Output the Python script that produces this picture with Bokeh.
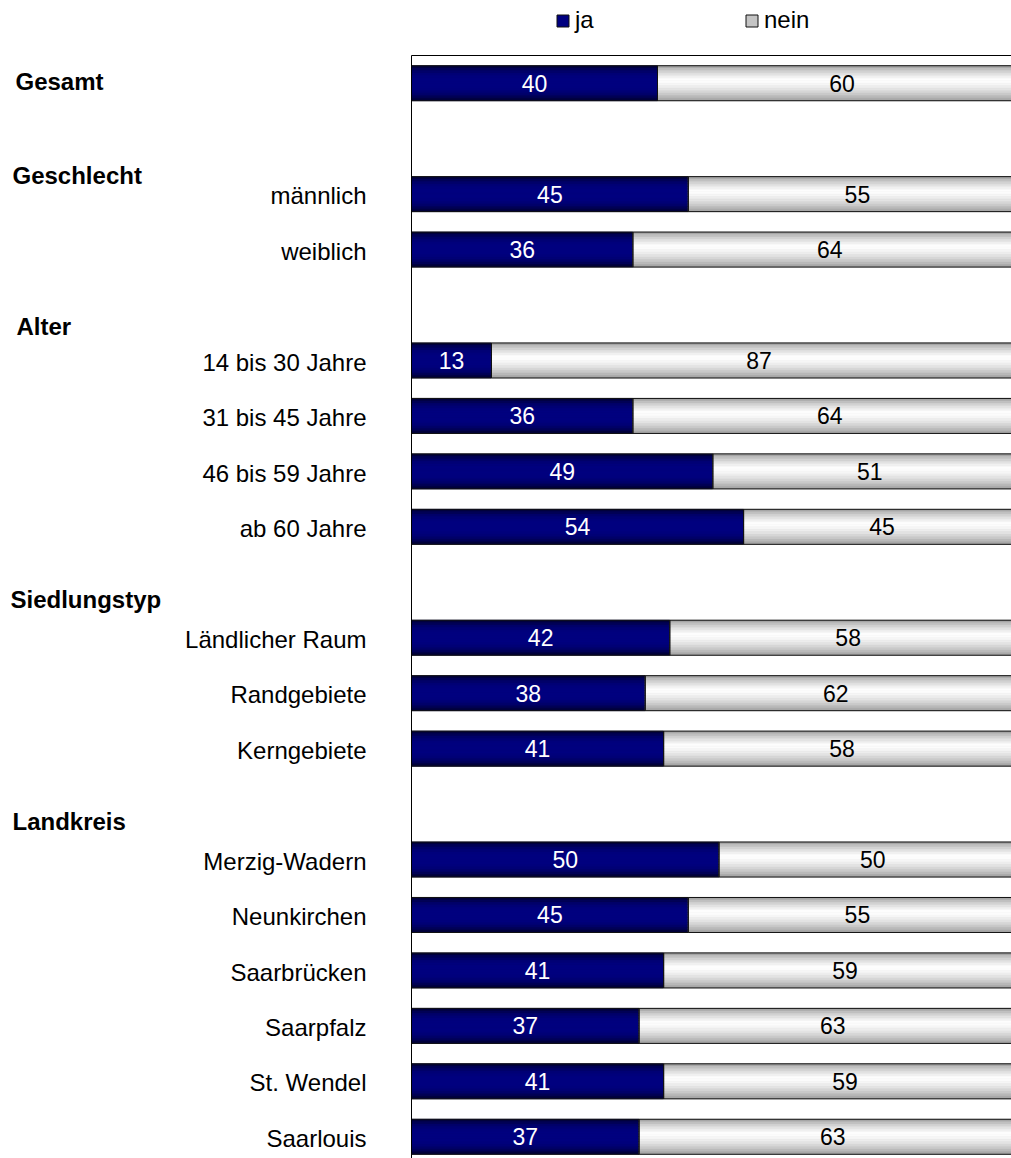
import numpy as np
from bokeh.plotting import figure
from bokeh.models import Range1d, Legend, LegendItem
from bokeh.core.properties import value
from bokeh.embed import file_html
from bokeh.resources import INLINE

# ---------------- data ----------------
groups = ["Gesamt", "Geschlecht", "Alter", "Siedlungstyp", "Landkreis"]
group_items = [
    [""],
    ["männlich", "weiblich"],
    ["14 bis 30 Jahre", "31 bis 45 Jahre", "46 bis 59 Jahre", "ab 60 Jahre"],
    ["Ländlicher Raum", "Randgebiete", "Kerngebiete"],
    ["Merzig-Wadern", "Neunkirchen", "Saarbrücken", "Saarpfalz", "St. Wendel", "Saarlouis"],
]
ja = [40, 45, 36, 13, 36, 49, 54, 42, 38, 41, 50, 45, 41, 37, 41, 37]
nein = [60, 55, 64, 87, 64, 51, 45, 58, 62, 58, 50, 55, 59, 63, 59, 63]
series_names = ["ja", "nein"]

# ---------------- layout of rows ----------------
header_shift = [-0.04, -0.33, -0.61, -0.69, -0.69]   # header placement relative to first row
header_px = [15, 12, 16, 10, 12]

slots, labels, header_slots = [], [], []
s = 0
for items, sh in zip(group_items, header_shift):
    header_slots.append(s + sh)
    for it in items:
        slots.append(s)
        labels.append(it)
        s += 1
    s += 1  # blank row after each group

ja_a = np.array(ja, dtype=float)
nein_a = np.array(nein, dtype=float)
slot_a = np.array(slots, dtype=float)

W, H = 1011, 1158
AXIS_X, TOP_Y = 411, 55          # page position of the value axis and top frame line
slot_px = 55.45
px_per_pct = 6.15

def px_to_x(px):
    return (px - AXIS_X) / px_per_pct

def py_to_y(py):
    return -0.5 + (py - TOP_Y) / slot_px

x_start, x_end = px_to_x(0), px_to_x(W)
y_top, y_bottom = py_to_y(0), py_to_y(H)

p = figure(width=W, height=H, output_backend="svg", toolbar_location=None,
           x_range=Range1d(x_start, x_end),
           y_range=Range1d(y_bottom, y_top),
           min_border=0, x_axis_location=None, y_axis_location=None)
p.grid.visible = False
p.outline_line_color = None
p.background_fill_color = "white"
p.border_fill_color = "white"

BAR_H = 35 / slot_px
N = 14

def navy(t):
    b = 128 - 85 * abs(2 * t - 1) ** 3
    return "#%02x%02x%02x" % (0, 0, int(b))

def grey(t):
    if t < 0.4:
        g = 140 + 115 * (t / 0.4) ** 0.6
    else:
        g = 255 - 95 * ((t - 0.4) / 0.6) ** 1.6
    g = int(max(0, min(255, g)))
    return "#%02x%02x%02x" % (g, g, g)

# base fills (used for the legend swatches)
ja_base = p.hbar(y=slot_a, left=0, right=ja_a, height=BAR_H,
                 fill_color="#000080", line_color=None)
nein_base = p.hbar(y=slot_a, left=ja_a, right=ja_a + nein_a, height=BAR_H,
                   fill_color="#c4c4c4", line_color=None)

# gradient strips
for k in range(N):
    t = (k + 0.5) / N
    yk = slot_a - BAR_H / 2 + t * BAR_H
    c1 = navy(t)
    p.hbar(y=yk, left=0, right=ja_a, height=BAR_H / N,
           fill_color=c1, line_color=c1, line_width=0.6)
    c2 = grey(t)
    p.hbar(y=yk, left=ja_a, right=ja_a + nein_a, height=BAR_H / N,
           fill_color=c2, line_color=c2, line_width=0.6)

# outlines
ja_line = p.hbar(y=slot_a, left=0, right=ja_a, height=BAR_H,
                 fill_alpha=0, line_color="#111111", line_width=1)
nein_line = p.hbar(y=slot_a, left=ja_a, right=ja_a + nein_a, height=BAR_H,
                   fill_alpha=0, line_color="#111111", line_width=1)

# axis line and top frame line
p.segment(x0=[0, 0], y0=[-0.5, -0.5], x1=[0, x_end], y1=[y_bottom, -0.5],
          line_color="black", line_width=1)

FONT = value("Liberation Sans")
# value labels
p.text(x=ja_a / 2, y=slot_a, text=[str(v) for v in ja],
       text_font=FONT, text_font_size="23px", text_color="white",
       text_align="center", text_baseline="middle")
p.text(x=ja_a + nein_a / 2, y=slot_a, text=[str(v) for v in nein],
       text_font=FONT, text_font_size="23px", text_color="black",
       text_align="center", text_baseline="middle")

# category labels
cat_y = [sl + 0.03 for sl, lb in zip(slots, labels) if lb]
cat_t = [lb for lb in labels if lb]
p.text(x=px_to_x(366), y=cat_y, text=cat_t, text_font=FONT,
       text_font_size="24px", text_color="black",
       text_align="right", text_baseline="middle")

# group headers
p.text(x=[px_to_x(v) for v in header_px], y=header_slots, text=groups,
       text_font=FONT, text_font_size="24px", text_font_style="bold",
       text_color="black", text_align="left", text_baseline="middle")

# legends
for name, rends, lx in [("ja", [ja_base, ja_line], 555),
                        ("nein", [nein_base, nein_line], 744)]:
    leg = Legend(items=[LegendItem(label=name, renderers=rends)],
                 location=(lx, H - 34), orientation="horizontal",
                 padding=0, spacing=0, margin=0, border_line_color=None,
                 background_fill_alpha=0, glyph_width=15, glyph_height=15,
                 label_standoff=5, label_height=24, label_text_font="Liberation Sans",
                 label_text_font_size="24px", label_text_color="black")
    p.add_layout(leg)

open("out.html", "w").write(file_html(p, INLINE))
